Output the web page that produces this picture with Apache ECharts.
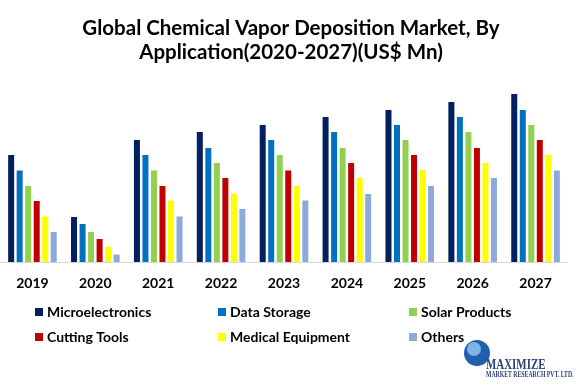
<!DOCTYPE html>
<html>
<head>
<meta charset="utf-8">
<script src="https://cdn.jsdelivr.net/npm/echarts@6/dist/echarts.min.js"></script>
<style>
html,body{margin:0;padding:0;background:#fff;}
#chart{width:582px;height:384px;}
</style>
</head>
<body>
<div id="chart"></div>
<script>
var years = ['2019','2020','2021','2022','2023','2024','2025','2026','2027'];
var seriesNames = ['Microelectronics','Data Storage','Solar Products','Cutting Tools','Medical Equipment','Others'];
var microelectronics = [107, 45, 122, 130, 137, 145, 152, 160, 168];
var dataStorage      = [91.5, 38, 107, 114, 122, 130, 137, 145, 152];
var solarProducts    = [76, 30, 91.5, 99, 107, 114, 122, 130, 137];
var cuttingTools     = [61, 23, 76, 84, 91.5, 99, 107, 114, 122];
var medicalEquipment = [45.5, 15.5, 61.5, 68.5, 76, 84, 92, 99, 107];
var others           = [30, 7.5, 45.5, 53, 61.5, 68, 76, 84, 91.5];
var colors = ['#002060','#0070C0','#92D050','#C00000','#FFFF00','#8EA9DB'];

var allData = [microelectronics, dataStorage, solarProducts, cuttingTools, medicalEquipment, others];
var FONT = 'Lato';

var legendPos = [[30,300],[213,300],[404,300],[30,325],[213,325],[404,325]];
var legends = seriesNames.map(function(n, i){
  return {
    data:[n], left: legendPos[i][0], top: legendPos[i][1],
    itemWidth: 8, itemHeight: 8, itemGap: 0, icon: 'rect',
    textStyle: {fontFamily: FONT, fontWeight: 'bold', fontSize: 14, color: '#000', padding:[0,0,0,-1]},
    selectedMode: false
  };
});

var chart = echarts.init(document.getElementById('chart'), null, {renderer:'canvas'});
chart.setOption({
  animation: false,
  backgroundColor: '#fff',
  title: {
    text: 'Global Chemical Vapor Deposition Market, By\nApplication(2020-2027)(US$ Mn)',
    left: 'center', top: 11,
    textStyle: {fontFamily: FONT, fontWeight: 'bold', fontSize: 20.5, color: '#000', lineHeight: 24}
  },
  legend: legends,
  grid: {left: 1, right: 15, top: 82, bottom: 122},
  xAxis: {
    type: 'category', data: years,
    axisLine: {lineStyle: {color: '#d9d9d9', width: 1}},
    axisTick: {show: false},
    axisLabel: {fontFamily: FONT, fontWeight: 'bold', fontSize: 14, color: '#000', margin: 14}
  },
  yAxis: {type: 'value', min: 0, max: 180, show: false, splitLine: {show: false}},
  series: seriesNames.map(function(n, i){
    return {
      name: n, type: 'bar', data: allData[i], barWidth: 6, barGap: '42%',
      itemStyle: {color: colors[i]}
    };
  }),
  graphic: [
    {type: 'circle', shape: {cx: 477, cy: 353, r: 13}, style: {fill: '#1f5fb0'}},
    {type: 'circle', shape: {cx: 474, cy: 349, r: 7}, style: {fill: '#7fb2e6'}},
    {type: 'text', left: 486, top: 358, scaleX: 0.78,
      style: {text: 'MAXIMIZE', font: 'bold 14px "Liberation Serif"', fill: '#2b3f7a'}},
    {type: 'text', left: 486, top: 371, scaleX: 0.72,
      style: {text: 'MARKET RESEARCH PVT. LTD.', font: 'bold 8px "Liberation Serif"', fill: '#2b3f7a'}}
  ]
});
</script>
</body>
</html>
